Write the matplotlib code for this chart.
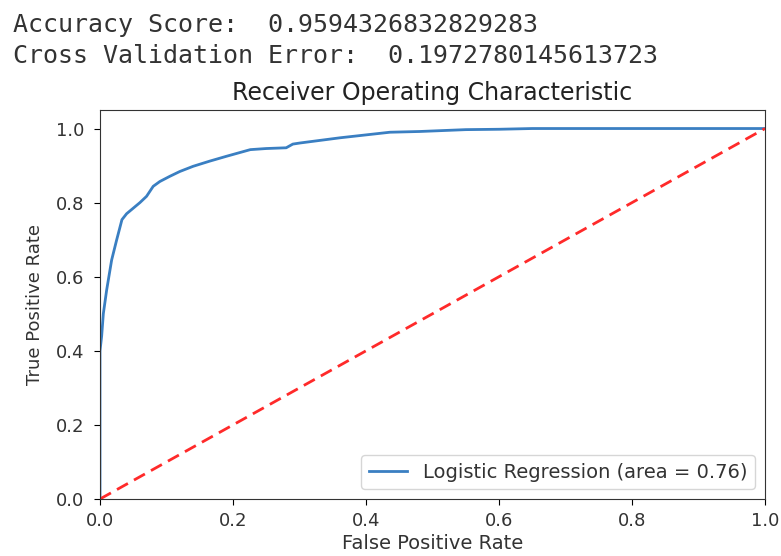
import matplotlib
matplotlib.use("Agg")
import matplotlib.pyplot as plt

# printed output above the chart
accuracy_score = "0.9594326832829283"
cv_error = "0.1972780145613723"

# ROC curve
fpr = [0, 0, 0.0025, 0.005, 0.01, 0.0175, 0.025, 0.033, 0.04, 0.05, 0.06, 0.07,
       0.08, 0.09, 0.105, 0.12, 0.14, 0.165, 0.19, 0.21, 0.226, 0.25, 0.28, 0.29,
       0.301, 0.331, 0.361, 0.391, 0.436, 0.481, 0.55, 0.6, 0.65, 0.72, 1.0]
tpr = [0, 0.40, 0.44, 0.50, 0.564, 0.645, 0.699, 0.754, 0.77, 0.785, 0.80, 0.817,
       0.844, 0.857, 0.871, 0.884, 0.898, 0.912, 0.925, 0.935, 0.943, 0.946, 0.948, 0.958,
       0.961, 0.968, 0.975, 0.981, 0.99, 0.992, 0.997, 0.998, 1.0, 1.0, 1.0]
roc_auc = 0.76
chance = [0, 1]

fig = plt.figure(figsize=(7.81, 5.56), dpi=100)

# notebook text output
fig.text(13 / 781, 1 - 32 / 556, "Accuracy Score:  " + accuracy_score,
         family="DejaVu Sans Mono", fontsize=18, color="#333333", va="baseline")
fig.text(13 / 781, 1 - 63 / 556, "Cross Validation Error:  " + cv_error,
         family="DejaVu Sans Mono", fontsize=18, color="#333333", va="baseline")

ax = fig.add_axes([100 / 781, 1 - 499 / 556, 665 / 781, 389 / 556])
ax.plot(fpr, tpr, color="#3a7fc2", lw=2,
        label="Logistic Regression (area = %0.2f)" % roc_auc)
ax.plot(chance, chance, "--", color="#ff2a2a", lw=2, dashes=(4.5, 2.5))
ax.set_xlim(0, 1)
ax.set_ylim(0, 1.05)
ax.set_xticks([0, 0.2, 0.4, 0.6, 0.8, 1.0])
ax.set_yticks([0, 0.2, 0.4, 0.6, 0.8, 1.0])
ax.tick_params(labelsize=13, length=4.5, labelcolor="#333333")
ax.tick_params(axis="y", pad=7)
ax.tick_params(axis="x", pad=5)
for s in ax.spines.values():
    s.set_color("#333333")
ax.set_xlabel("False Positive Rate", fontsize=14, labelpad=3, color="#333333")
ax.set_ylabel("True Positive Rate", fontsize=13, labelpad=8, color="#333333")
ax.set_title("Receiver Operating Characteristic", fontsize=17, pad=7, color="#222222")
ax.legend(loc="lower right", fontsize=14, labelcolor="#333333")

fig.savefig("out.png", dpi=100)
